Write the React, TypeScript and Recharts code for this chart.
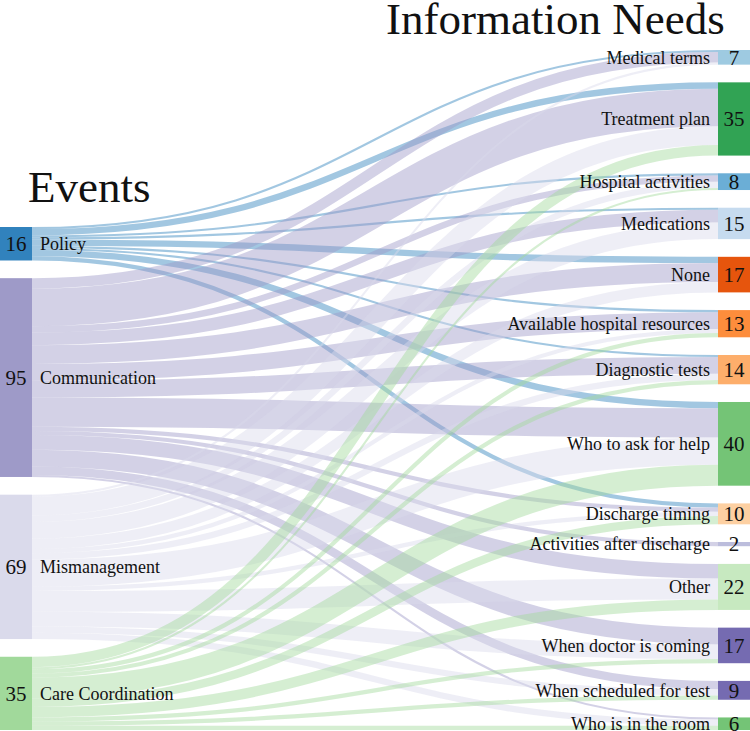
import React from 'react';
import { Sankey } from 'recharts';

const sources = ['Policy', 'Communication', 'Mismanagement', 'Care Coordination'];
const sourceColors = ['#3182bd', '#9e9ac8', '#dadaeb', '#a1d99b'];

const targets = [
  'Medical terms',
  'Treatment plan',
  'Hospital activities',
  'Medications',
  'None',
  'Available hospital resources',
  'Diagnostic tests',
  'Who to ask for help',
  'Discharge timing',
  'Activities after discharge',
  'Other',
  'When doctor is coming',
  'When scheduled for test',
  'Who is in the room',
];
const targetColors = [
  '#9ecae1',
  '#31a354',
  '#6baed6',
  '#c6dbef',
  '#e6550d',
  '#fd8d3c',
  '#fdae6b',
  '#74c476',
  '#fdd0a2',
  '#bcbddc',
  '#c7e9c0',
  '#756bb1',
  '#756bb1',
  '#74c476',
];

// flows from each event to each information need (same order as targets)
const policyFlows = [1, 3, 1, 1, 3, 1, 1, 3, 2, 0, 0, 0, 0, 0];
const communicationFlows = [5, 18, 3, 6, 9, 8, 8, 14, 2, 2, 7, 8, 4, 1];
const mismanagementFlows = [1, 9, 3, 8, 5, 2, 3, 13, 2, 0, 10, 7, 3, 3];
const careCoordinationFlows = [0, 5, 1, 0, 0, 2, 2, 10, 4, 0, 5, 2, 2, 2];

const flowTable = [policyFlows, communicationFlows, mismanagementFlows, careCoordinationFlows];

const nodeColors = [...sourceColors, ...targetColors];

const nodes = [...sources, ...targets].map((name) => ({ name }));
const links: { source: number; target: number; value: number }[] = [];
flowTable.forEach((row, s) => {
  row.forEach((v, t) => {
    if (v > 0) links.push({ source: s, target: sources.length + t, value: v });
  });
});

const data = { nodes, links };

const FONT = '"Liberation Serif", "Times New Roman", serif';

const NodeShape = (props: any) => {
  const { x, y, width, height, index, payload } = props;
  const isLeft = index < sources.length;
  const cy = y + height / 2;
  return (
    <g>
      <rect x={x} y={y} width={width} height={height} fill={nodeColors[index]} />
      <text
        x={x + width / 2}
        y={cy}
        dy="0.35em"
        textAnchor="middle"
        fontSize={21}
        fontFamily={FONT}
        fill="#111"
      >
        {payload.value}
      </text>
      <text
        x={isLeft ? x + width + 8 : x - 8}
        y={cy}
        dy="0.35em"
        textAnchor={isLeft ? 'start' : 'end'}
        fontSize={18}
        fontFamily={FONT}
        fill="#111"
      >
        {payload.name}
      </text>
    </g>
  );
};

const LinkShape = (props: any) => {
  const { sourceX, targetX, sourceY, targetY, sourceControlX, targetControlX, linkWidth, payload } = props;
  const src = payload?.source;
  let si = 0;
  if (typeof src === 'number') si = src;
  else if (src && src.name) si = sources.indexOf(src.name);
  return (
    <path
      d={`M${sourceX},${sourceY}C${sourceControlX},${sourceY} ${targetControlX},${targetY} ${targetX},${targetY}`}
      fill="none"
      stroke={sourceColors[si]}
      strokeWidth={linkWidth}
      strokeOpacity={0.45}
    />
  );
};

export default function App() {
  return (
    <div
      style={{
        position: 'fixed',
        left: 0,
        top: 0,
        width: 750,
        height: 731,
        overflow: 'hidden',
        background: '#fff',
      }}
    >
      <Sankey
        width={750}
        height={731}
        data={data}
        nodeWidth={32}
        nodePadding={17.7}
        linkCurvature={0.5}
        iterations={32}
        sort={false}
        margin={{ top: 50, right: 0, bottom: 1, left: 0 }}
        node={<NodeShape />}
        link={<LinkShape />}
      />
      <svg
        width={750}
        height={731}
        style={{ position: 'absolute', left: 0, top: 0, pointerEvents: 'none' }}
      >
        <text x={386} y={34} fontSize={45} fontFamily={FONT} fill="#111">
          Information Needs
        </text>
        <text x={28} y={202} fontSize={45} fontFamily={FONT} fill="#111">
          Events
        </text>
      </svg>
    </div>
  );
}
